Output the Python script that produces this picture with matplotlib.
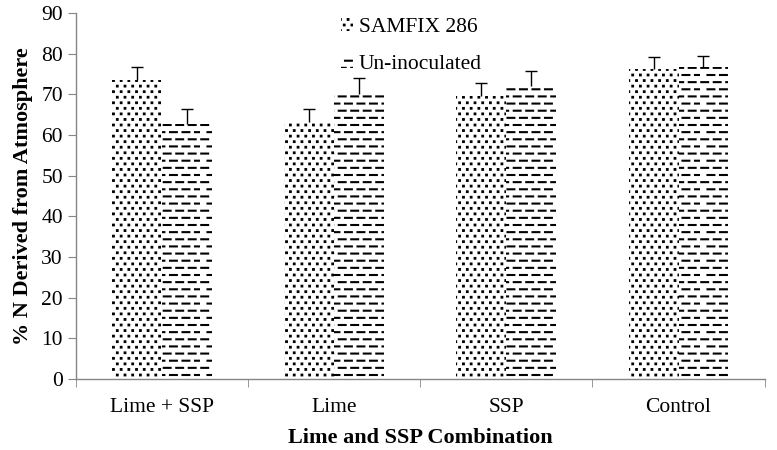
import warnings
import numpy as np
import matplotlib
matplotlib.use("Agg")
import matplotlib.pyplot as plt
import matplotlib.hatch as mhatch
from matplotlib.path import Path

warnings.filterwarnings("ignore")

# data
categories = ["Lime + SSP", "Lime", "SSP", "Control"]
samfix = [73.5, 63.3, 69.5, 76.3]
uninoc = [62.8, 70.0, 72.0, 76.8]
samfix_err = [3.2, 3.0, 3.3, 3.0]
uninoc_err = [3.5, 4.0, 3.8, 2.6]


# custom hatches: staggered dots ('d') and staggered dashes ('_')
class DotGrid(mhatch.HatchPatternBase):
    def __init__(self, hatch, density):
        self.on = 'd' in hatch
        self.cols, self.rows = 13, 18
        self.n = self.cols * self.rows if self.on else 0
        self.num_vertices = self.n * 5

    def set_vertices_and_codes(self, vertices, codes):
        s = 0.0035
        k = 0
        for r in range(self.rows):
            off = 0.5 if r % 2 else 0.0
            for c in range(self.cols):
                x = (c + 0.25 + off) / self.cols
                y = (r + 0.5) / self.rows
                sq = [(x - s, y - s), (x + s, y - s), (x + s, y + s), (x - s, y + s), (x - s, y - s)]
                vertices[k * 5:(k + 1) * 5] = sq
                codes[k * 5:(k + 1) * 5] = [Path.MOVETO, Path.LINETO, Path.LINETO, Path.LINETO, Path.CLOSEPOLY]
                k += 1


class DashGrid(mhatch.HatchPatternBase):
    def __init__(self, hatch, density):
        self.on = '_' in hatch
        self.cols, self.rows = 8, 14
        self.n = self.cols * self.rows if self.on else 0
        self.num_vertices = self.n * 2

    def set_vertices_and_codes(self, vertices, codes):
        L = 0.55 / self.cols
        k = 0
        for r in range(self.rows):
            off = 0.5 if r % 2 else 0.0
            for c in range(self.cols):
                x = (c + 0.1 + off) / self.cols
                y = (r + 0.5) / self.rows
                vertices[k * 2:(k + 1) * 2] = [(x, y), (x + L, y)]
                codes[k * 2:(k + 1) * 2] = [Path.MOVETO, Path.LINETO]
                k += 1


mhatch._hatch_types.append(DotGrid)
mhatch._hatch_types.append(DashGrid)

plt.rcParams['font.family'] = ['Liberation Serif', 'DejaVu Serif']
plt.rcParams['hatch.linewidth'] = 1.5

fig = plt.figure(figsize=(7.77, 4.5), dpi=100)
ax = fig.add_axes([0.098, 0.158, 0.886, 0.813])

x = np.arange(len(categories))
w = 0.29
ax.bar(x - w / 2, samfix, w, color='white', edgecolor='black', linewidth=0,
       hatch='d', label='SAMFIX 286')
ax.bar(x + w / 2, uninoc, w, color='white', edgecolor='black', linewidth=0,
       hatch='_', label='Un-inoculated')
for xs, vals, errs in [(x - w / 2, samfix, samfix_err), (x + w / 2, uninoc, uninoc_err)]:
    eb = ax.errorbar(xs, vals, yerr=[np.zeros(4), errs], fmt='none',
                     ecolor='black', elinewidth=1, capsize=4, capthick=1)
    eb[1][0].set_visible(False)  # only keep the top cap

ax.set_xlim(-0.5, 3.5)
ax.set_ylim(0, 90)
ax.set_yticks(range(0, 91, 10))
ax.set_xticks(x)
ax.set_xticklabels(categories, fontsize=15.5)
ax.set_xticks(np.arange(-0.5, 4, 1), minor=True)
ax.tick_params(axis='x', which='major', length=0, pad=14)
ax.tick_params(axis='x', which='minor', length=6, color='#868686', direction='out')
ax.tick_params(axis='y', labelsize=15.5, length=6, color='#868686', direction='out')
for s in ['top', 'right']:
    ax.spines[s].set_visible(False)
for s in ['left', 'bottom']:
    ax.spines[s].set_color('#868686')
    ax.spines[s].set_linewidth(1)

ax.set_ylabel('% N Derived from Atmosphere', fontsize=16, fontweight='bold', labelpad=6)
ax.set_xlabel('Lime and SSP Combination', fontsize=16, fontweight='bold', labelpad=8)

ax.legend(loc='upper center', bbox_to_anchor=(0.487, 1.04), frameon=False, fontsize=15.5,
          handlelength=0.55, handleheight=0.55, handletextpad=0.3, labelspacing=0.85)

fig.savefig('out.png', dpi=100)
